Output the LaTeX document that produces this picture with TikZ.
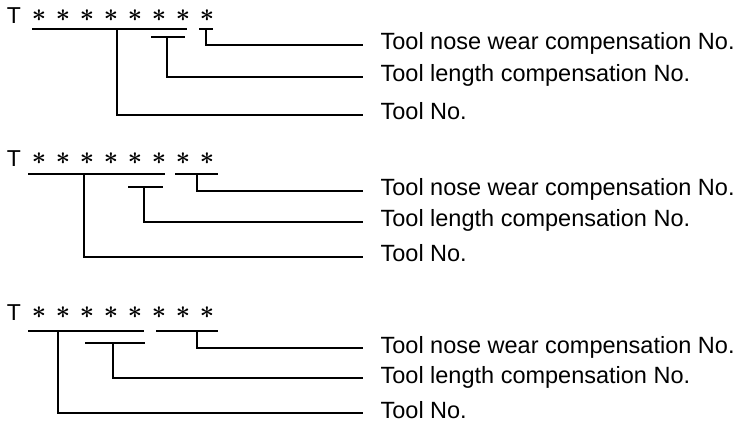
\documentclass[tikz,border=0pt]{standalone}
\usepackage{fontspec}
\setmainfont{Liberation Sans}
\usetikzlibrary{calc}

\begin{document}
\begin{tikzpicture}[x=1pt,y=-1pt,line width=1.2pt,
  lab/.style={anchor=base west, inner sep=0pt, font=\fontsize{23.5}{26}\selectfont},
  tee/.style={inner sep=0pt, font=\fontsize{23}{26}\selectfont},
  digit/.style={inner sep=0pt, font=\fontsize{32}{34}\selectfont\boldmath}]
  \useasboundingbox (0,0) rectangle (744,430);

  % Three panels: T code with eight digits, brackets down to the names.
  \foreach \p/\y in {1/16,2/159,3/313}{
    \node[tee] (t\p) at (14,\y) {T};
    \foreach \i in {1,...,8}
      \node[digit] (d\p\i) at (15+24*\i,\y) {$\ast$};
  }

  % Panel 1
  \coordinate (e11) at (363,45);
  \coordinate (e12) at (363,77);
  \coordinate (e13) at (363,115);
  \draw (32,29) -- (187,29);
  \draw (151,37) -- (185,37);
  \draw (199,29) -- (213,29);
  \coordinate (v11) at (206,29);
  \coordinate (v12) at (167,37);
  \coordinate (v13) at (117,29);

  % Panel 2
  \coordinate (e21) at (363,191);
  \coordinate (e22) at (363,222);
  \coordinate (e23) at (363,257);
  \draw (28,174) -- (165,174);
  \draw (175,174) -- (218,174);
  \draw (128,187) -- (163,187);
  \coordinate (v21) at (197,174);
  \coordinate (v22) at (144,187);
  \coordinate (v23) at (84,174);

  % Panel 3
  \coordinate (e31) at (363,348);
  \coordinate (e32) at (363,378);
  \coordinate (e33) at (363,413);
  \draw (28,331) -- (144,331);
  \draw (156,331) -- (218,331);
  \draw (85,343) -- (145,343);
  \coordinate (v31) at (197,331);
  \coordinate (v32) at (113,343);
  \coordinate (v33) at (58,331);

  \foreach \p in {1,2,3}{
    \node[lab] (n\p1) at ([xshift=17pt,yshift=-5pt]e\p1) {Tool nose wear compensation No.};
    \node[lab] (n\p2) at ([xshift=17pt,yshift=-5pt]e\p2) {Tool length compensation No.};
    \node[lab] (n\p3) at ([xshift=17pt,yshift=-5pt]e\p3) {Tool No.};
    \foreach \k in {1,2,3}
      \draw (v\p\k) |- (e\p\k);
  }
\end{tikzpicture}
\end{document}
